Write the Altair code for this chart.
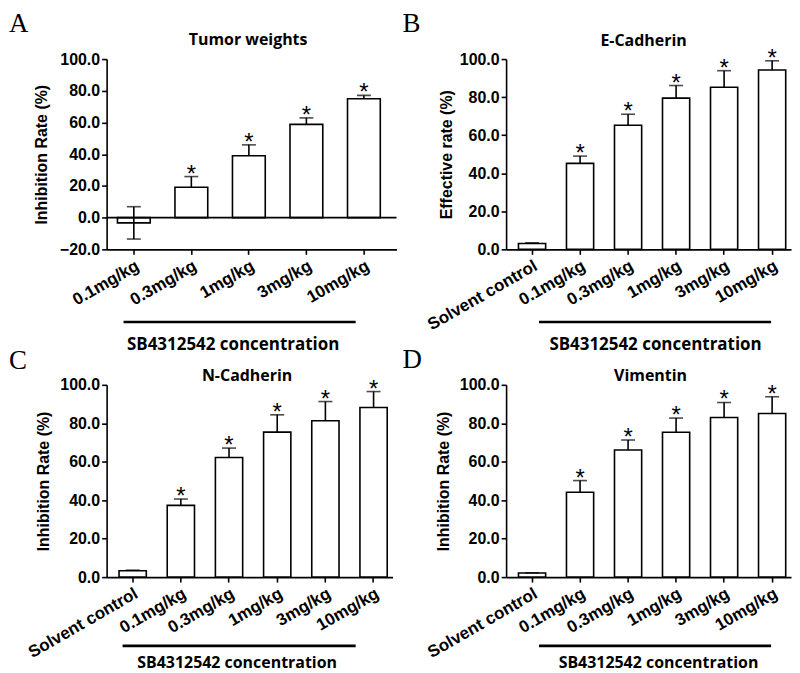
import altair as alt
import pandas as pd

# ---------------- data ----------------
A_cats = ["0.1mg/kg", "0.3mg/kg", "1mg/kg", "3mg/kg", "10mg/kg"]
A_vals = [-3.3, 19.2, 39.0, 58.8, 75.0]
A_err = [10.2, 6.7, 6.9, 4.1, 2.1]
A_sig = [False, True, True, True, True]

BCD_cats = ["Solvent control", "0.1mg/kg", "0.3mg/kg", "1mg/kg", "3mg/kg", "10mg/kg"]
B_vals = [3.1, 45.2, 65.2, 79.5, 85.2, 94.3]
B_err = [0.3, 3.8, 5.8, 6.6, 8.7, 4.8]
C_vals = [3.3, 37.3, 62.2, 75.4, 81.3, 88.2]
C_err = [0.3, 3.3, 4.9, 9.0, 10.0, 8.3]
D_vals = [2.1, 44.1, 66.1, 75.3, 83.0, 85.1]
D_err = [0.2, 6.1, 5.2, 7.4, 7.8, 8.7]
BCD_sig = [False, True, True, True, True, True]

TITLES = ["Tumor weights", "E-Cadherin", "N-Cadherin", "Vimentin"]
YTITLES = ["Inhibition Rate (%)", "Effective rate (%)", "Inhibition Rate (%)", "Inhibition Rate (%)"]
LETTERS = ["A", "B", "C", "D"]
XNOTE = "SB4312542 concentration"

SW = 1.6
SANS = "Liberation Sans"
TFONT = "Open Sans"


def one(text):
    return alt.Chart(pd.DataFrame({"t": [text]}))


def panel(cats, vals, errs, sig, title, ytitle, letter, w, h, ydom,
          pin, pout, palign, ytpad, lay):
    df = pd.DataFrame({"cat": cats, "value": vals, "err": errs, "sig": sig})
    df["hi"] = df["value"] + df["err"]
    df["lo"] = df["value"] - df["err"]
    base = alt.Chart(df)

    x = alt.X("cat:N", sort=cats, title="",
              scale=alt.Scale(paddingInner=pin, paddingOuter=pout, align=palign),
              axis=alt.Axis(labelAngle=-30, labelAlign="right", labelBaseline="top",
                            labelOverlap=False, labelPadding=3, labelFontSize=17))
    yscale = alt.Scale(domain=ydom, nice=False, zero=False)
    yaxis = alt.Axis(values=list(range(ydom[0], ydom[1] + 1, 20)), format=".1f",
                     titlePadding=ytpad, labelOverlap=False)

    def Y(f):
        return alt.Y(f, title=ytitle, scale=yscale, axis=yaxis)

    bars = base.mark_bar(fill="white", stroke="black", strokeWidth=SW).encode(
        x=x, y=Y("value:Q"), y2=alt.datum(0))
    layers = [bars]
    if ydom[0] < 0:
        layers.append(one("z").mark_rule(color="black", strokeWidth=SW)
                      .encode(y=alt.datum(0, scale=yscale, axis=yaxis, title=ytitle)))
    up = base.mark_rule(color="black", strokeWidth=SW).encode(x=x, y=Y("value:Q"), y2="hi:Q")
    upcap = base.mark_tick(color="black", thickness=SW, size=14).encode(x=x, y=Y("hi:Q"))
    neg = base.transform_filter("datum.value < 0")
    down = neg.mark_rule(color="black", strokeWidth=SW).encode(x=x, y=Y("value:Q"), y2="lo:Q")
    downcap = neg.mark_tick(color="black", thickness=SW, size=14).encode(x=x, y=Y("lo:Q"))
    stars = base.transform_filter("datum.sig").mark_text(
        text="*", font=SANS, fontSize=24, baseline="alphabetic", dy=5, color="black"
    ).encode(x=x, y=Y("hi:Q"))
    layers += [up, upcap, down, downcap, stars]

    lx, ly, tx, ty, r1, r2, ry, nx, ny, nfs = lay
    let = one(letter).mark_text(text=letter, font="Liberation Serif", fontSize=27,
                                align="left", baseline="alphabetic", color="black"
                                ).encode(x=alt.value(lx), y=alt.value(ly))
    ttl = one(title).mark_text(text=title, font=TFONT, fontWeight="bold", fontSize=16,
                               align="center", baseline="middle", color="black"
                               ).encode(x=alt.value(tx), y=alt.value(ty))
    line = one("l").mark_rule(color="black", strokeWidth=2.6).encode(
        x=alt.value(r1), x2=alt.value(r2), y=alt.value(ry))
    note = one(XNOTE).mark_text(text=XNOTE, font=TFONT, fontWeight="bold", fontSize=nfs,
                                align="center", baseline="middle", color="black"
                                ).encode(x=alt.value(nx), y=alt.value(ny))
    layers += [let, ttl, line, note]
    return alt.layer(*layers).properties(width=w, height=h)


pA = panel(A_cats, A_vals, A_err, A_sig, TITLES[0], YTITLES[0], LETTERS[0], 291, 191,
           [-20, 100], 0.43, 0.235, 0.4, 10,
           (-98, -27, 142, -19, 17, 250, 264, 127, 287, 17))
pB = panel(BCD_cats, B_vals, B_err, BCD_sig, TITLES[1], YTITLES[1], LETTERS[1], 286, 191,
           [0, 100], 0.434, 0.184, 0.7, 5,
           (-104, -27, 138, -18, 33, 266, 264, 150, 287, 17))
pC = panel(BCD_cats, C_vals, C_err, BCD_sig, TITLES[2], YTITLES[2], LETTERS[2], 287, 193,
           [0, 100], 0.434, 0.184, 0.7, 8,
           (-98, -16, 141, -9, 16, 250, 262, 131, 279, 16))
pD = panel(BCD_cats, D_vals, D_err, BCD_sig, TITLES[3], YTITLES[3], LETTERS[3], 286, 193,
           [0, 100], 0.434, 0.184, 0.7, 8,
           (-104, -17, 145, -9, 33, 266, 262, 153, 279, 16))

chart = alt.concat(pA, pB, pC, pD, columns=2,
                   spacing={"row": 136, "column": 110}, bounds="flush").properties(
    padding=0, background="white"
).configure_axis(
    domainColor="black", domainWidth=SW, tickColor="black", tickWidth=SW, tickSize=5,
    labelFont=SANS, labelFontWeight="bold", labelFontSize=16, labelColor="black",
    titleFont=SANS, titleFontWeight="bold", titleFontSize=16, titleColor="black",
    grid=False,
).configure_view(stroke="transparent")

chart.save("out.html", embed_options={"renderer": "svg", "actions": False})
